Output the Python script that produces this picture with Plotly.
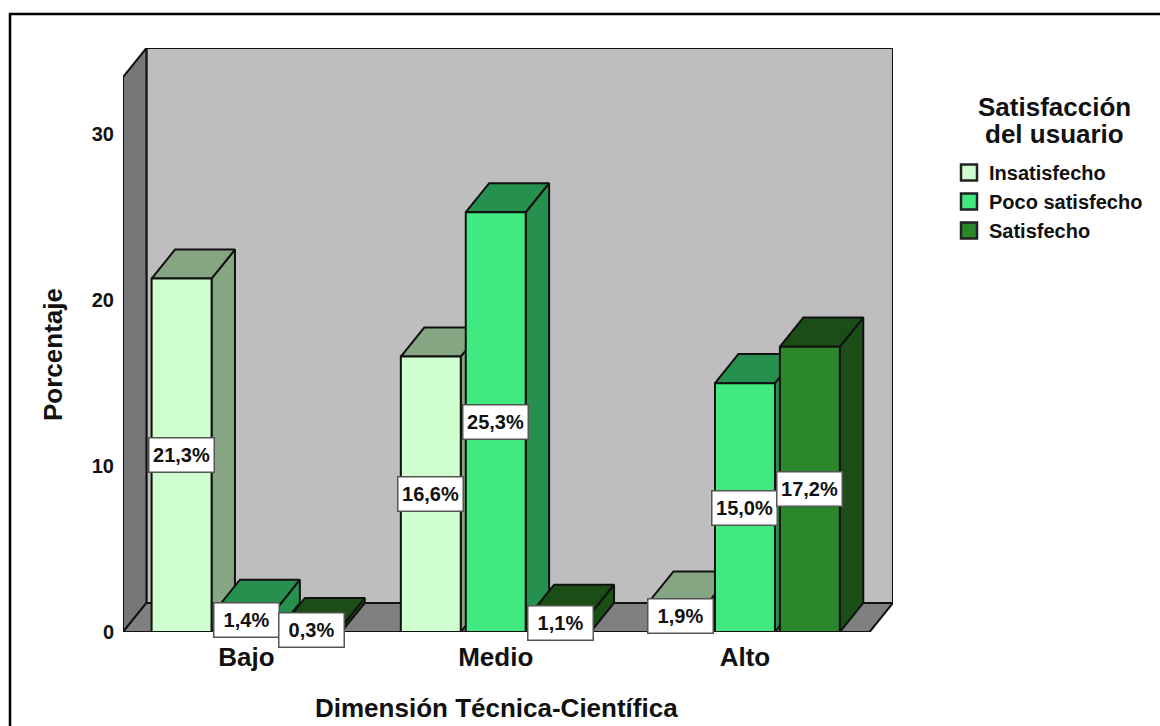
import plotly.graph_objects as go

# Survey percentages per technical-scientific level
categories = ["Bajo", "Medio", "Alto"]
satisfaction_levels = ["Insatisfecho", "Poco satisfecho", "Satisfecho"]
insatisfecho = [21.3, 16.6, 1.9]
poco_satisfecho = [1.4, 25.3, 15.0]
satisfecho = [0.3, 1.1, 17.2]
series_values = [insatisfecho, poco_satisfecho, satisfecho]
y_ticks = [0, 10, 20, 30]

front_colors = ["#CFFFCF", "#40EA80", "#2A882A"]
side_colors = ["#86A583", "#26904F", "#1A4E16"]

# Box geometry in axis units
X_MIN, X_MAX = -0.4955, 2.5
Y_TOP = 33.45
DEPTH_X, DEPTH_Y = 0.094, 1.75
BAR_WIDTH, BAR_STEP = 0.2405, 0.2605
EDGE = "#111111"
FONT = "Liberation Sans"
TEXT = "#111111"

# Page size and plot area in pixels, including the depth of the box
PAGE_W, PAGE_H = 1160, 726
LEFT, RIGHT, TOP, BOTTOM = 123, 893, 48, 632


def paper_x(px):
    return (px - LEFT) / (RIGHT - LEFT)


def paper_y(py):
    return (BOTTOM - py) / (BOTTOM - TOP)


def face(xs, ys, color, line_width=2):
    return go.Scatter(
        x=xs + xs[:1], y=ys + ys[:1], mode="lines", fill="toself",
        fillcolor=color, line=dict(color=EDGE, width=line_width),
        showlegend=False, hoverinfo="skip", cliponaxis=False,
    )


def caption(text, px, py, size=26, angle=0):
    return dict(
        x=paper_x(px), y=paper_y(py), xref="paper", yref="paper",
        xanchor="center", yanchor="middle", text=text, showarrow=False, textangle=angle,
        font=dict(family=FONT, size=size, color=TEXT, weight="bold"),
    )


fig = go.Figure()

# Chart walls and floor
fig.add_trace(face([X_MIN + DEPTH_X, X_MAX + DEPTH_X, X_MAX + DEPTH_X, X_MIN + DEPTH_X],
                   [DEPTH_Y, DEPTH_Y, Y_TOP + DEPTH_Y, Y_TOP + DEPTH_Y], "#BEBEBE"))
fig.add_trace(face([X_MIN, X_MIN + DEPTH_X, X_MIN + DEPTH_X, X_MIN],
                   [0, DEPTH_Y, Y_TOP + DEPTH_Y, Y_TOP], "#777777"))
fig.add_trace(face([X_MIN, X_MAX, X_MAX + DEPTH_X, X_MIN + DEPTH_X],
                   [0, 0, DEPTH_Y, DEPTH_Y], "#808080"))

annotations = []

# Bars: walked left to right so that nearer faces cover farther ones
for c_idx, _ in enumerate(categories):
    for s_idx, values in enumerate(series_values):
        v = values[c_idx]
        left = c_idx + (s_idx - 1) * BAR_STEP - BAR_WIDTH / 2
        right = left + BAR_WIDTH
        fig.add_trace(face([right, right + DEPTH_X, right + DEPTH_X, right],
                           [0, DEPTH_Y, v + DEPTH_Y, v], side_colors[s_idx]))
        fig.add_trace(face([left, right, right + DEPTH_X, left + DEPTH_X],
                           [v, v, v + DEPTH_Y, v + DEPTH_Y], side_colors[s_idx]))
        fig.add_trace(face([left, right, right, left], [0, 0, v, v], front_colors[s_idx]))
        annotations.append(dict(
            x=(left + right) / 2, y=v / 2, xref="x", yref="y",
            text=f"{v:.1f}%".replace(".", ","), showarrow=False,
            font=dict(family=FONT, size=20, color=TEXT, weight="bold"),
            bgcolor="#FFFFFF", bordercolor="#555555", borderwidth=1.5,
            width=62, height=31, align="center",
        ))

# Axis titles and the heading above the legend entries
annotations += [
    caption("Dimensión Técnica-Científica", 496, 708),
    caption("Porcentaje", 53, 355, angle=-90),
    caption("Satisfacción", 1054, 107),
    caption("del usuario", 1054, 134),
]

# Legend entries
for name, color in zip(satisfaction_levels, front_colors):
    fig.add_trace(go.Scatter(
        x=[None], y=[None], mode="markers", name=name, legendgroup=name,
        marker=dict(symbol="square", size=16, color=color, line=dict(color="#222222", width=2.5)),
    ))

fig.update_layout(
    width=PAGE_W, height=PAGE_H, autosize=False,
    paper_bgcolor="#FFFFFF", plot_bgcolor="#FFFFFF",
    margin=dict(l=LEFT, r=PAGE_W - RIGHT, t=TOP, b=PAGE_H - BOTTOM),
    annotations=annotations,
    showlegend=True,
    legend=dict(
        x=949 / PAGE_W, y=1 - 153 / PAGE_H, xref="container", yref="container",
        xanchor="left", yanchor="top",
        traceorder="normal", tracegroupgap=0, itemclick=False,
        font=dict(family=FONT, size=20, color=TEXT, weight="bold"),
    ),
    xaxis=dict(
        range=[X_MIN, X_MAX + DEPTH_X], tickmode="array", tickvals=[0, 1, 2], ticktext=categories,
        showgrid=False, zeroline=False, showline=False, ticks="", automargin=False,
        ticklabelstandoff=7,
        tickfont=dict(family=FONT, size=26, color=TEXT, weight="bold"),
    ),
    yaxis=dict(
        range=[0, Y_TOP + DEPTH_Y], tickmode="array", tickvals=y_ticks,
        showgrid=False, zeroline=False, showline=False, ticks="", automargin=False,
        ticklabelstandoff=8,
        tickfont=dict(family=FONT, size=20, color=TEXT, weight="bold"),
    ),
    # Outer frame running off the right and bottom of the page
    shapes=[dict(type="rect", xref="paper", yref="paper",
                 x0=paper_x(10), x1=paper_x(1200), y0=paper_y(740), y1=paper_y(14),
                 line=dict(color="#000000", width=2.5), fillcolor="rgba(0,0,0,0)", layer="below")],
)

fig.write_html("out.html")
